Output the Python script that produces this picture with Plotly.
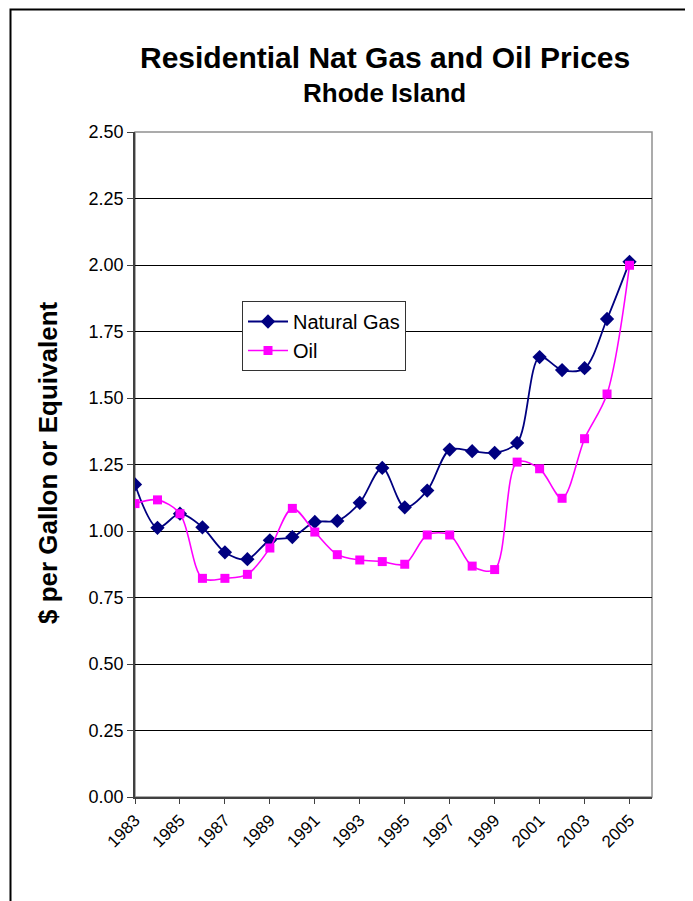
import plotly.graph_objects as go

years = list(range(1983, 2006))
natural_gas = [1.175, 1.012, 1.065, 1.014, 0.920, 0.894, 0.965, 0.977, 1.034, 1.038,
               1.106, 1.237, 1.089, 1.152, 1.306, 1.300, 1.294, 1.331, 1.654, 1.605,
               1.612, 1.797, 2.012]
oil = [1.103, 1.117, 1.065, 0.822, 0.822, 0.837, 0.936, 1.085, 0.996, 0.911,
       0.891, 0.885, 0.875, 0.985, 0.985, 0.868, 0.855, 1.259, 1.234, 1.123,
       1.347, 1.515, 1.999]
year_ticks = list(range(1983, 2006, 2))
y_ticks = [0, 0.25, 0.5, 0.75, 1.0, 1.25, 1.5, 1.75, 2.0, 2.25, 2.5]

FONT = "Arial, Liberation Sans, sans-serif"
OFF = 8  # page body margin
W, H = 693 - OFF, 901 - OFF
L, R, T, B = 135 - OFF, 652 - OFF, 132 - OFF, 797 - OFF


def px(x):
    return (x - OFF - L) / (R - L)


def py(y):
    return (B - (y - OFF)) / (B - T)


fig = go.Figure()
fig.add_trace(go.Scatter(
    x=years, y=natural_gas, name="Natural Gas", mode="lines+markers",
    line=dict(color="#000080", width=1.8, shape="spline", smoothing=0.9),
    marker=dict(symbol="diamond", size=11, color="#000080"),
))
fig.add_trace(go.Scatter(
    x=years, y=oil, name="Oil", mode="lines+markers",
    line=dict(color="#FF00FF", width=1.6, shape="spline", smoothing=0.9),
    marker=dict(symbol="square", size=9, color="#FF00FF"),
))

fig.update_layout(
    width=W, height=H,
    margin=dict(l=L, r=W - R, t=T, b=H - B, pad=0),
    paper_bgcolor="white", plot_bgcolor="white",
    font=dict(family=FONT, color="black", size=17),
    showlegend=True,
    legend=dict(
        x=px(242), y=py(301), xanchor="left", yanchor="top",
        bgcolor="white", bordercolor="#333333", borderwidth=1,
        font=dict(size=20, family=FONT, color="black"),
        tracegroupgap=0, itemwidth=40,
    ),
    xaxis=dict(
        range=[1983, 2006], tickvals=year_ticks, ticktext=[str(t) for t in year_ticks],
        tickangle=-45, ticks="outside", ticklen=5, tickcolor="#404040",
        showgrid=False, zeroline=False, showline=True, linecolor="#404040", linewidth=1.5,
        tickfont=dict(size=17, family=FONT),
    ),
    yaxis=dict(
        range=[0, 2.5], tickvals=y_ticks, tickformat=".2f",
        ticks="outside", ticklen=6, tickcolor="#404040",
        showgrid=True, gridcolor="#000000", gridwidth=1,
        zeroline=False, showline=True, linecolor="#404040", linewidth=1.5,
        tickfont=dict(size=18, family=FONT),
    ),
    shapes=[
        dict(type="rect", xref="paper", yref="paper", x0=0, x1=1, y0=0, y1=1,
             line=dict(color="#909090", width=1.5), layer="below"),
        dict(type="path", xref="paper", yref="paper",
             path=f"M {px(700)} {py(9.5)} L {px(10.5)} {py(9.5)} L {px(10.5)} {py(920)}",
             line=dict(color="#000000", width=2)),
    ],
    annotations=[
        dict(text="<b>Residential Nat Gas and Oil Prices</b>", xref="paper", yref="paper",
             x=px(385), y=py(57), xanchor="center", yanchor="middle", showarrow=False,
             font=dict(size=30, family=FONT, color="black")),
        dict(text="<b>Rhode Island</b>", xref="paper", yref="paper",
             x=px(384), y=py(93), xanchor="center", yanchor="middle", showarrow=False,
             font=dict(size=26, family=FONT, color="black")),
        dict(text="<b>$ per Gallon or Equivalent</b>", xref="paper", yref="paper",
             x=px(48), y=py(463), xanchor="center", yanchor="middle", showarrow=False,
             textangle=-90, font=dict(size=26, family=FONT, color="black")),
    ],
)

fig.write_html("out.html")
